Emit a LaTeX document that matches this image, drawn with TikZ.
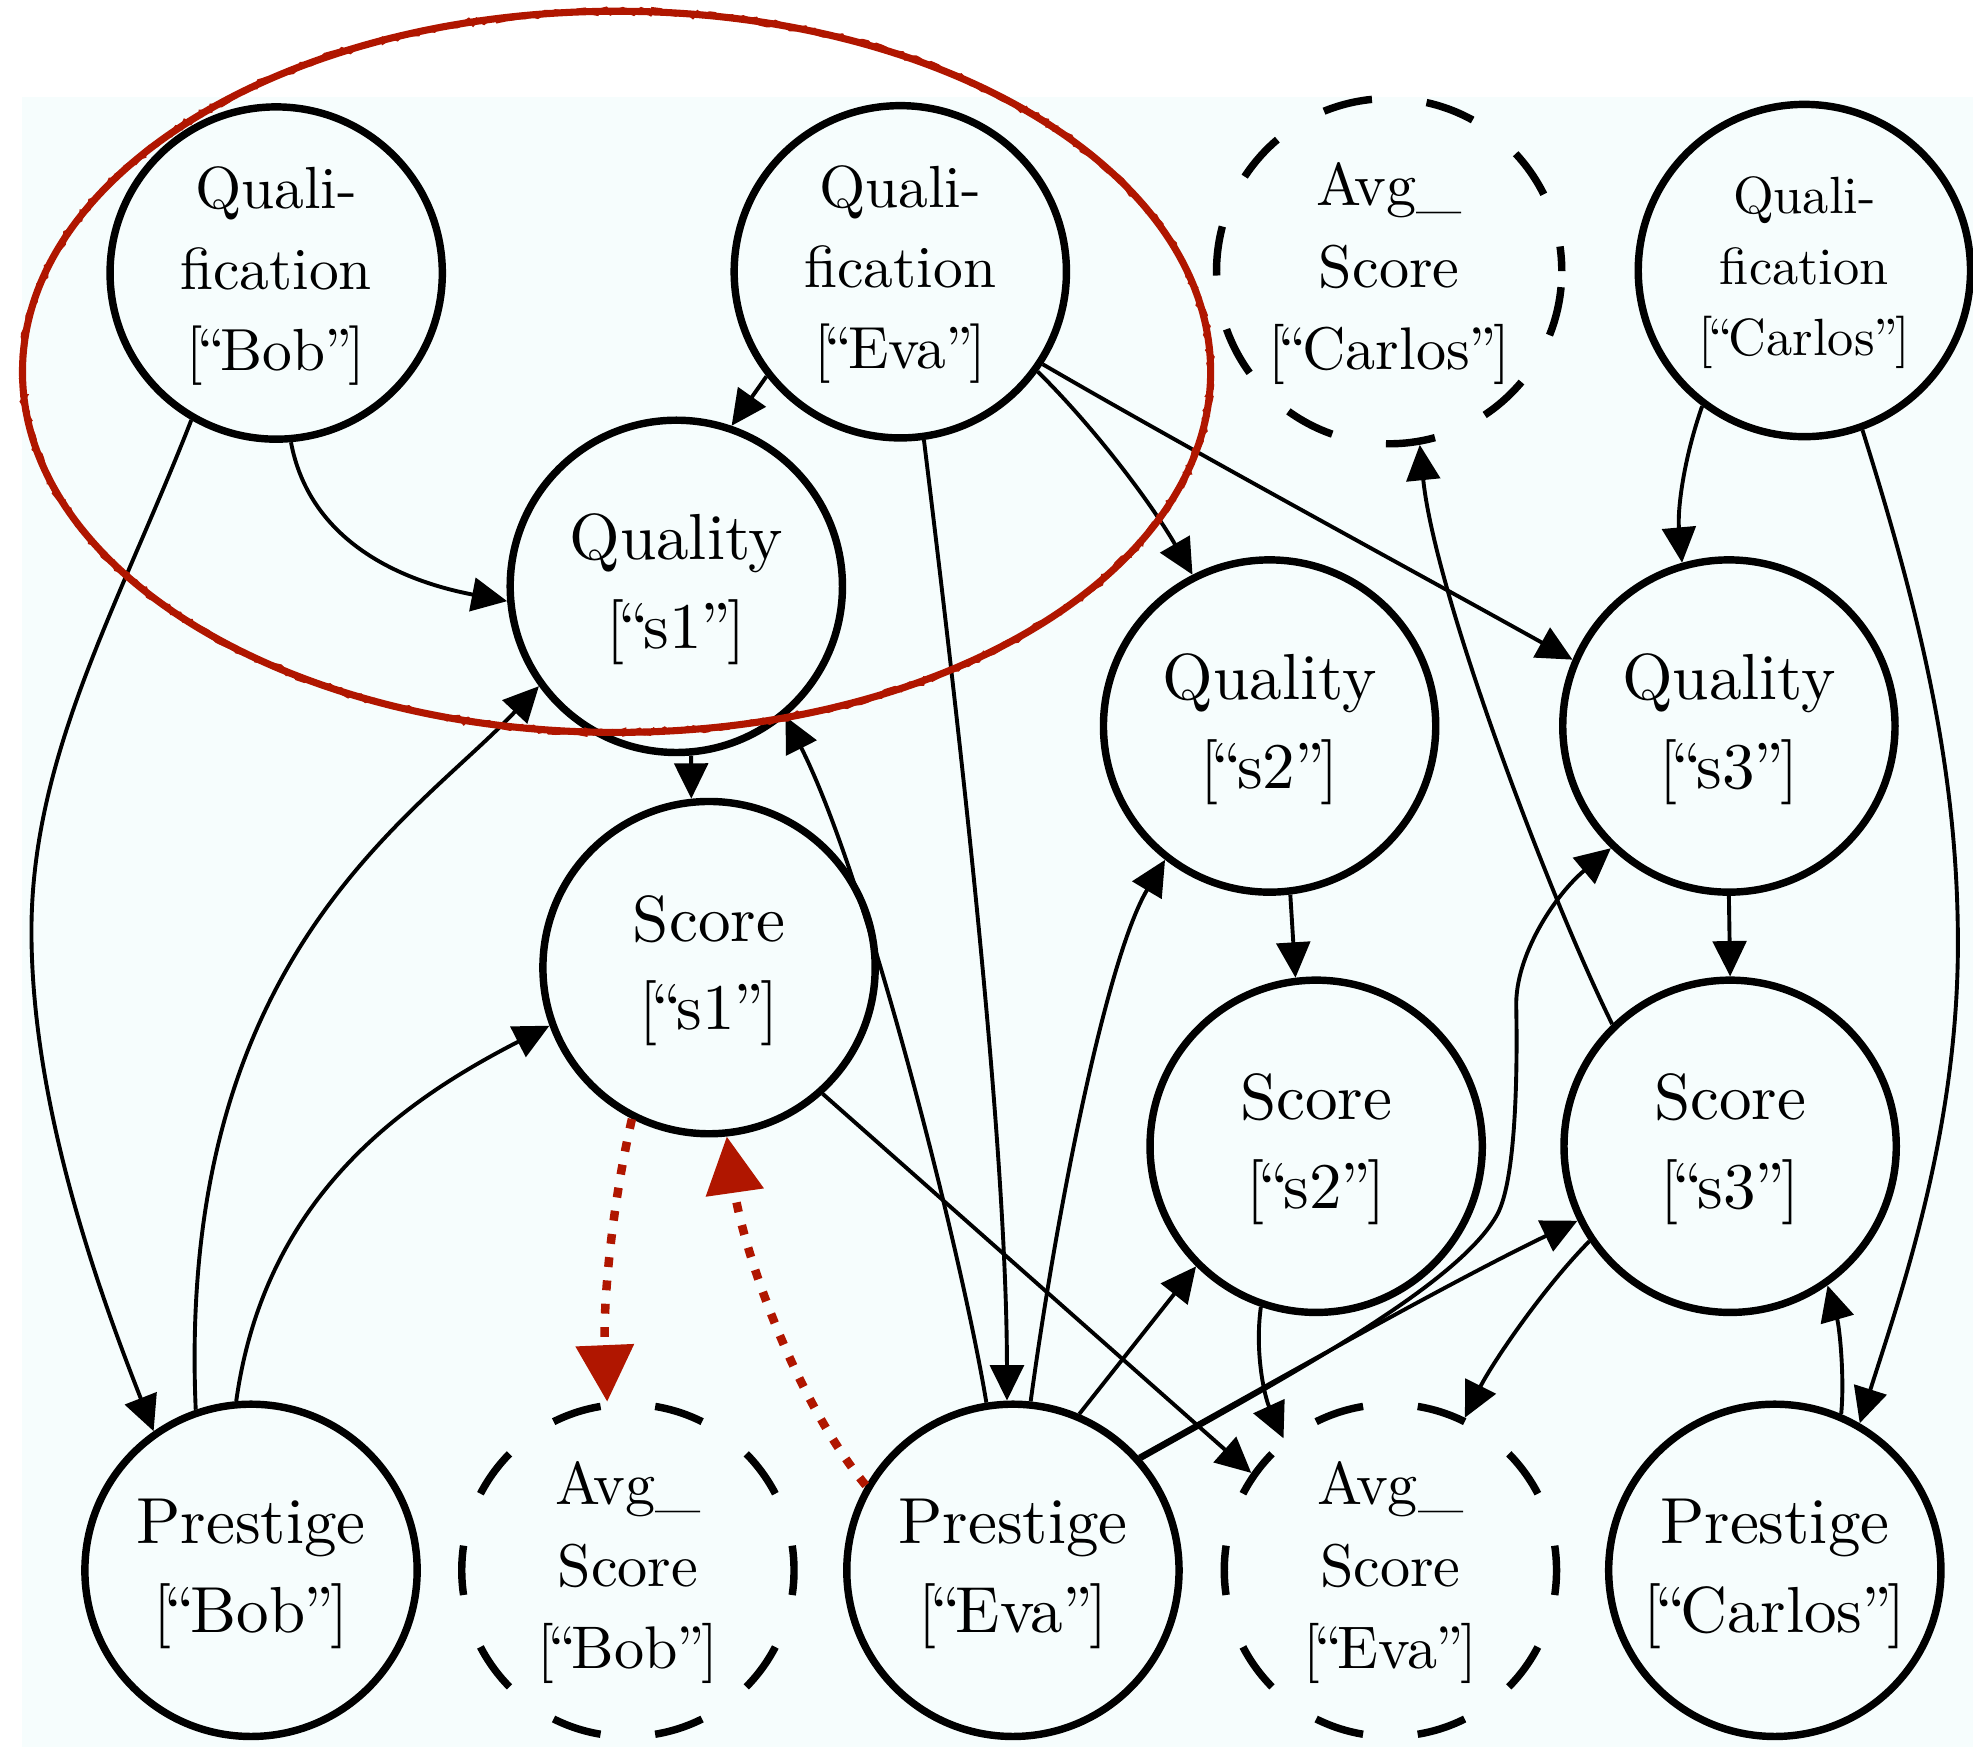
\documentclass[tikz,border=0pt]{standalone}
\usepackage{graphicx}
\usetikzlibrary{arrows.meta, decorations.pathmorphing}

\definecolor{bgcyan}{RGB}{246,253,253}
\definecolor{markred}{RGB}{176,22,0}

% stacked node text set at 10pt and scaled up as a whole
\newcommand\nodelines[2]{\scalebox{#1}{\fontsize{10}{13.6}\selectfont\begin{tabular}{@{}c@{}}#2\end{tabular}}}
% tightly set quotation marks inside the brackets
\newcommand\oq{\kern-1pt“\kern-0.8pt}
\newcommand\cq{\kern-0.2pt”\kern-0.6pt}

\tikzset{
  var/.style={circle, draw, line width=2.1pt, minimum size=3.3cm, inner sep=0pt},
  avg/.style={var, dash pattern=on 14pt off 15.5pt, dash phase=7pt},
  arr/.style={draw, line width=1.1pt, -{Triangle[length=10pt,width=9.5pt]}},
  redarr/.style={draw=markred, line width=2.4pt, dash pattern=on 2.8pt off 3.8pt,
                 -{Triangle[length=16pt,width=16pt]}},
  marker/.style={draw=markred, line width=2pt},
  roughmarker/.style={draw=markred, line width=1.1pt, decorate,
                      decoration={random steps, segment length=1.5pt, amplitude=0.8pt}},
}

\begin{document}
\begin{tikzpicture}[x=0.0125cm, y=-0.0125cm]
  \useasboundingbox (0,0) rectangle (1568,1388);
  \fill[white] (0,0) rectangle (1568,1388);
  \fill[bgcyan] (17.5,77) rectangle (1568,1388);

  % variables
  \node[var] (qb) at (219.5,217)  {\nodelines{1.68}{Quali-\\fication\\{}[\oq Bob\cq]}};
  \node[var] (qe) at (715.5,216)  {\nodelines{1.68}{Quali-\\fication\\{}[\oq Eva\cq]}};
  \node[avg] (ac) at (1104,215.5) {\nodelines{1.7}{Avg\_\\Score\\{}[\oq Carlos\cq]}};
  \node[var] (qc) at (1434,215)   {\nodelines{1.48}{Quali-\\fication\\{}[\oq Carlos\cq]}};

  \node[var] (q1) at (537.5,466)  {\nodelines{1.84}{Quality\\{}[\oq s1\cq]}};
  \node[var] (q2) at (1009,577)   {\nodelines{1.84}{Quality\\{}[\oq s2\cq]}};
  \node[var] (q3) at (1374,577)   {\nodelines{1.84}{Quality\\{}[\oq s3\cq]}};

  \node[var] (s1) at (563.5,769)  {\nodelines{1.84}{Score\\{}[\oq s1\cq]}};
  \node[var] (s2) at (1046,911)   {\nodelines{1.84}{Score\\{}[\oq s2\cq]}};
  \node[var] (s3) at (1375,911)   {\nodelines{1.84}{Score\\{}[\oq s3\cq]}};

  \node[var] (pb) at (199.5,1248) {\nodelines{1.84}{Prestige\\{}[\oq Bob\cq]}};
  \node[avg] (ab) at (499,1248)   {\nodelines{1.7}{Avg\_\\Score\\{}[\oq Bob\cq]}};
  \node[var] (pe) at (805,1248)   {\nodelines{1.84}{Prestige\\{}[\oq Eva\cq]}};
  \node[avg] (ae) at (1105,1248)  {\nodelines{1.7}{Avg\_\\Score\\{}[\oq Eva\cq]}};
  \node[var] (pc) at (1410.5,1248){\nodelines{1.84}{Prestige\\{}[\oq Carlos\cq]}};

  % dependencies
  \draw[arr] (qb.-120) .. controls (95,480) and (25,600) .. (25,740)
                       .. controls (25,880) and (80,1030) .. (pb.125);
  \draw[arr] (qb.-85) .. controls (245,425) and (310,460) .. (q1.-175);
  \draw[arr] (pb.109) .. controls (140,760) and (330,650) .. (q1.-144);
  \draw[arr] (pb.95) .. controls (210,954) and (316,877) .. (s1.-160);

  \draw[arr] (qe.-142) -- (q1.71);
  \draw[arr] (qe.-82) .. controls (760,560) and (800,900) .. (pe.92);
  \draw[arr] (qe.-36) .. controls (870,340) and (915,400) .. (q2.117);
  \draw[arr] (qe.-33) .. controls (950,360) and (1120,452) .. (q3.157);

  \draw[arr] (q1.-85) -- (s1.96);
  \draw[arr] (pe.99) .. controls (765,1000) and (690,700) .. (q1.-50);
  \draw[arr] (pe.84) .. controls (840,960) and (880,760) .. (q2.-128);
  \draw[arr] (pe.67) -- (s2.-135);
  \draw[arr] (pe.42.5) .. controls (1000,1105) and (1150,1020) .. (s3.-154);
  \draw[arr] (pe.41.5) .. controls (1030,1090) and (1160,1020) .. (1190,965)
                       .. controls (1205,937) and (1206,850) .. (1205,800)
                       .. controls (1204,760) and (1235,712) .. (q3.-134);

  \draw[arr] (s1.-48) -- (ae.145);
  \draw[arr] (q2.-83) -- (s2.97);
  \draw[arr] (s2.-109) .. controls (997,1075) and (1005,1110) .. (ae.129);

  \draw[arr] (s3.134) .. controls (1230,710) and (1140,470) .. (ac.-80);
  \draw[arr] (qc.-127) .. controls (1338,365) and (1333,405) .. (q3.106);
  \draw[arr] (qc.-70) .. controls (1530,500) and (1556,620) .. (1556,750)
                      .. controls (1556,900) and (1510,1030) .. (pc.60);
  \draw[arr] (q3.-90) -- (s3.90);
  \draw[arr] (s3.-146) .. controls (1225,1025) and (1185,1085) .. (ae.64);
  \draw[arr] (pc.67) .. controls (1466,1095) and (1462,1055) .. (s3.-55);

  % highlighted dependencies
  \draw[redarr] (s1.-117) .. controls (488,950) and (479,1030) .. (ab.97);
  \draw[redarr] (pe.150) .. controls (630,1110) and (590,990) .. (s1.-84);

  % hand-drawn marking round the top-left group
  \draw[marker] (490,295.5) ellipse [x radius=5.9cm, y radius=3.581cm];
  \path[roughmarker] (490,295.5) ellipse [x radius=5.9cm, y radius=3.581cm];
\end{tikzpicture}
\end{document}
